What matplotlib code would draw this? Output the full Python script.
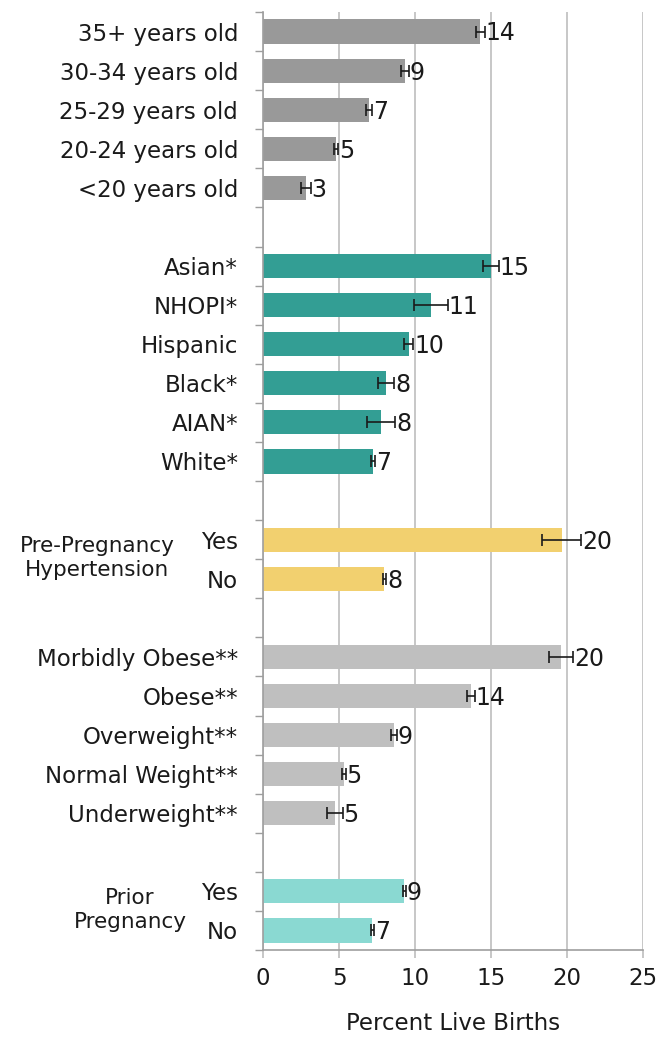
import numpy as np
import matplotlib.pyplot as plt

plt.rcParams['font.family'] = ['DejaVu Sans']

# groups, top to bottom
age_labels = ['35+ years old', '30-34 years old', '25-29 years old', '20-24 years old', '<20 years old']
age_vals = [14.3, 9.35, 6.97, 4.8, 2.83]
age_err = [0.3, 0.25, 0.2, 0.15, 0.3]

race_labels = ['Asian*', 'NHOPI*', 'Hispanic', 'Black*', 'AIAN*', 'White*']
race_vals = [15.0, 11.05, 9.6, 8.1, 7.76, 7.24]
race_err = [0.5, 1.1, 0.3, 0.55, 0.95, 0.15]

htn_labels = ['Yes', 'No']
htn_vals = [19.65, 7.99]
htn_err = [1.3, 0.12]

bmi_labels = ['Morbidly Obese**', 'Obese**', 'Overweight**', 'Normal Weight**', 'Underweight**']
bmi_vals = [19.6, 13.7, 8.6, 5.33, 4.74]
bmi_err = [0.8, 0.25, 0.2, 0.12, 0.5]

prior_labels = ['Yes', 'No']
prior_vals = [9.3, 7.2]
prior_err = [0.12, 0.12]

value_text = [[14, 9, 7, 5, 3], [15, 11, 10, 8, 8, 7], [20, 8], [20, 14, 9, 5, 5], [9, 7]]

groups = [
    (age_labels, age_vals, age_err, '#999999'),
    (race_labels, race_vals, race_err, '#339E94'),
    (htn_labels, htn_vals, htn_err, '#F2D06F'),
    (bmi_labels, bmi_vals, bmi_err, '#BFBFBF'),
    (prior_labels, prior_vals, prior_err, '#8AD9D2'),
]

fig = plt.figure(figsize=(6.57, 10.4), dpi=100)
ax = fig.add_axes([263 / 657, 1 - 950 / 1040, 380 / 657, 938 / 1040])

pos = 0
ticks, tick_labels = [], []
for (labels, vals, errs, color), txt in zip(groups, value_text):
    ys = np.arange(pos, pos + len(labels))
    ax.barh(ys, vals, height=0.62, color=color, zorder=2)
    ax.errorbar(vals, ys, xerr=errs, fmt='none', ecolor='#1a1a1a',
                elinewidth=1.2, capsize=4, capthick=1.2, zorder=3)
    for y, v, e, t in zip(ys, vals, errs, txt):
        ax.text(v + e + 0.05, y + 0.05, str(t), va='center', ha='left',
                fontsize=17, color='#1a1a1a')
    ticks += list(ys)
    tick_labels += labels
    pos += len(labels) + 1

n_slots = pos - 1
ax.set_ylim(n_slots - 0.5, -0.5)
ax.set_xlim(0, 25)
ax.set_yticks(ticks)
ax.set_yticklabels(tick_labels, fontsize=16.5, color='#1a1a1a')
ax.tick_params(axis='y', which='major', length=0, pad=18)
ax.set_yticks(np.arange(-0.5, n_slots, 1.0), minor=True)
ax.tick_params(axis='y', which='minor', length=6, color='#9e9e9e', width=1)

ax.set_xticks(np.arange(0, 26, 5))
ax.tick_params(axis='x', length=6, color='#bdbdbd', width=1.2,
               labelsize=16.5, labelcolor='#1a1a1a', pad=6)
ax.set_xlabel('Percent Live Births', fontsize=16.5, color='#1a1a1a', labelpad=16)
ax.grid(axis='x', color='#bdbdbd', linewidth=1.2, zorder=0)

for s in ['top', 'right']:
    ax.spines[s].set_visible(False)
for s in ['left', 'bottom']:
    ax.spines[s].set_color('#9e9e9e')
    ax.spines[s].set_linewidth(1.2)

# group titles on the left
fig.text(97 / 657, 1 - 558 / 1040, 'Pre-Pregnancy\nHypertension', ha='center', va='center',
         fontsize=15.5, color='#1a1a1a', linespacing=1.25)
fig.text(130 / 657, 1 - 910 / 1040, 'Prior\nPregnancy', ha='center', va='center',
         fontsize=15.5, color='#1a1a1a', linespacing=1.25)

fig.savefig('out.png', dpi=100)
